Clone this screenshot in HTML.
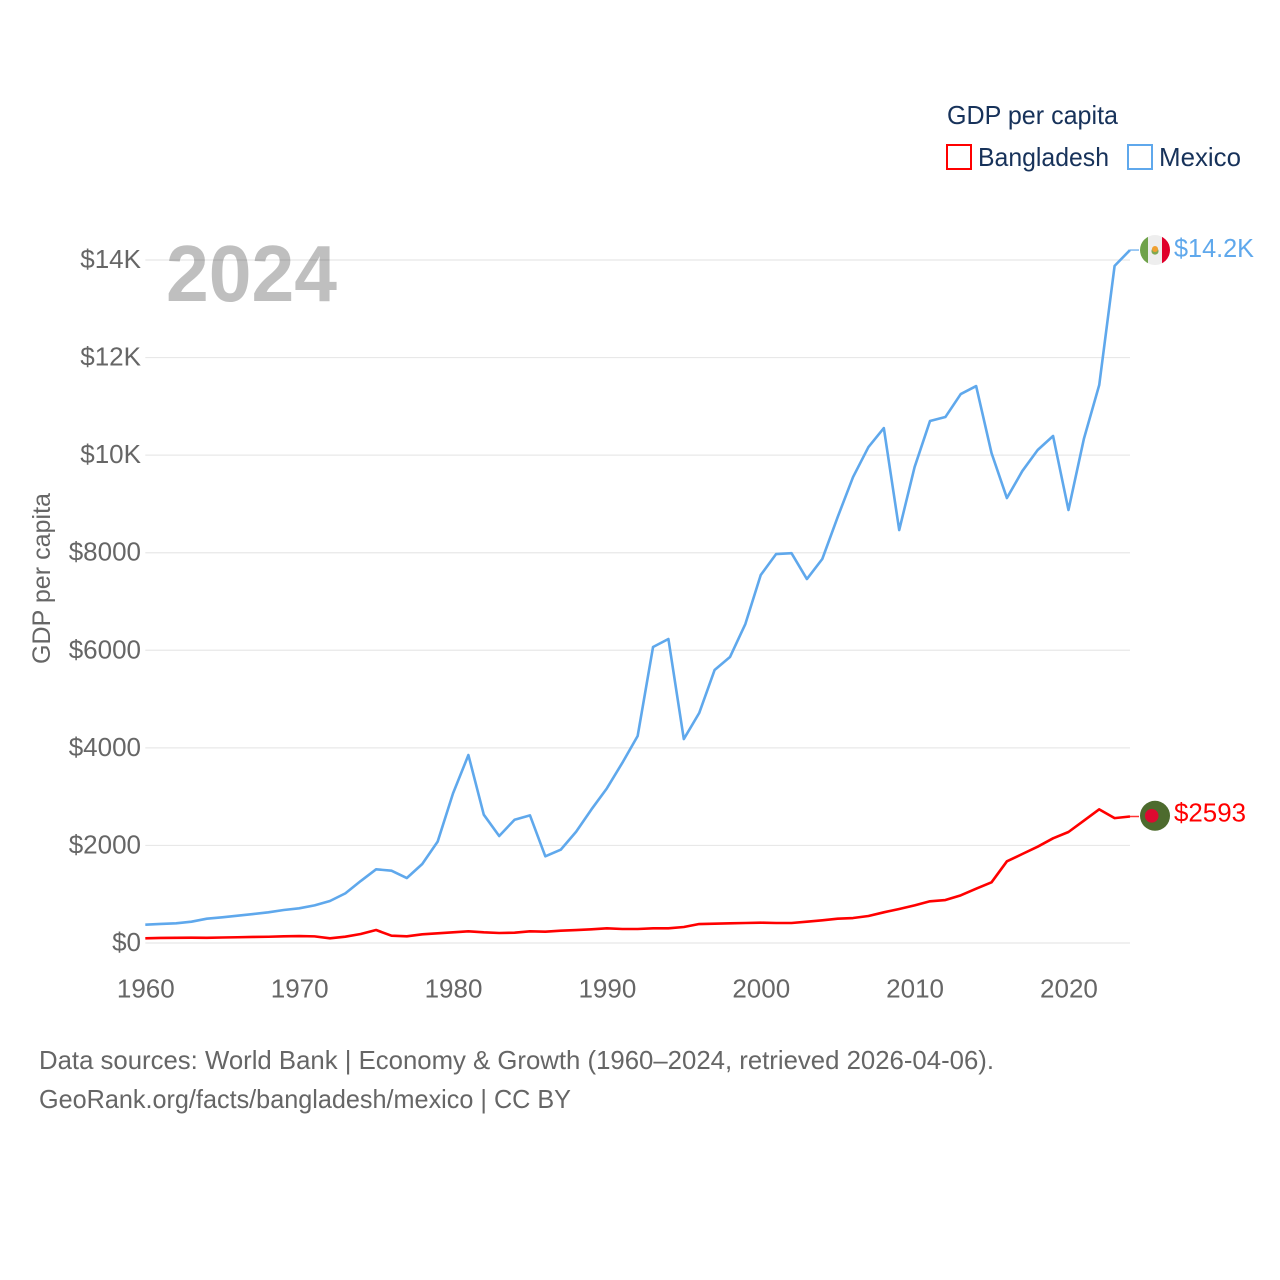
<!DOCTYPE html>
<html lang="en">
<head>
<meta charset="utf-8">
<title>GDP per capita: Bangladesh and Mexico</title>
<style>
html,body{margin:0;padding:0;background:#fff;width:1280px;height:1280px;overflow:hidden}
svg{display:block}
text{font-family:"Liberation Sans",sans-serif}
</style>
</head>
<body>
<svg id="chart" xmlns="http://www.w3.org/2000/svg" width="1280" height="1280" viewBox="0 0 1280 1280">
  <g id="grid"></g>
  <g id="y-ticks"></g>
  <g id="x-ticks"></g>
  <text x="166" y="301" font-size="80" font-weight="bold" fill="rgba(0,0,0,0.25)" textLength="171" lengthAdjust="spacingAndGlyphs">2024</text>
  <text transform="translate(50,578.5) rotate(-90)" text-anchor="middle" font-size="25" fill="#666" textLength="171" lengthAdjust="spacingAndGlyphs">GDP per capita</text>
  <g id="series"></g>

  <g id="flag-mexico">
    <clipPath id="mx-clip"><circle id="mx-clip-circle" cx="1155" cy="250" r="15"></circle></clipPath>
    <g clip-path="url(#mx-clip)">
      <rect id="mx-g" x="1140" y="235" width="8" height="30" fill="#6fa24a"></rect>
      <rect id="mx-w" x="1148" y="235" width="14" height="30" fill="#eeeeee"></rect>
      <rect id="mx-r" x="1162" y="235" width="8" height="30" fill="#e0002b"></rect>
      <circle id="mx-l" cx="1155" cy="251" r="3.6" fill="#7fa850"></circle>
      <circle id="mx-e" cx="1155" cy="249" r="3" fill="#f0a030"></circle>
    </g>
  </g>
  <g id="flag-bangladesh">
    <circle id="bd-g" cx="1155" cy="816" r="15" fill="#4d6b2e"></circle>
    <circle id="bd-r" cx="1151.7" cy="816" r="6.8" fill="#dc0a30"></circle>
  </g>
  <text id="label-mexico" x="1174" y="257" font-size="26" fill="#5fa8ec" textLength="80" lengthAdjust="spacingAndGlyphs">$14.2K</text>
  <text id="label-bangladesh" x="1174" y="822" font-size="26" fill="#ff0000" textLength="72" lengthAdjust="spacingAndGlyphs">$2593</text>

  <g>
    <text x="947" y="124" font-size="26" fill="#17325a" textLength="171" lengthAdjust="spacingAndGlyphs">GDP per capita</text>
    <rect x="947" y="145" width="24" height="24" fill="none" stroke="#ff0000" stroke-width="2"></rect>
    <text x="978" y="166" font-size="26" fill="#17325a" textLength="131" lengthAdjust="spacingAndGlyphs">Bangladesh</text>
    <rect x="1128" y="145" width="24" height="24" fill="none" stroke="#5fa8ec" stroke-width="2"></rect>
    <text x="1159" y="166" font-size="26" fill="#17325a" textLength="82" lengthAdjust="spacingAndGlyphs">Mexico</text>
  </g>

  <text x="39" y="1069" font-size="26" fill="#666" textLength="955" lengthAdjust="spacingAndGlyphs">Data sources: World Bank | Economy &amp; Growth (1960–2024, retrieved 2026-04-06).</text>
  <text x="39" y="1108" font-size="26" fill="#666" textLength="532" lengthAdjust="spacingAndGlyphs">GeoRank.org/facts/bangladesh/mexico | CC BY</text>
</svg>
<script>
const startYear = 1960;
const endYear = 2024;
const yTickValues = [0, 2000, 4000, 6000, 8000, 10000, 12000, 14000];
const yTickLabels = ["$0", "$2000", "$4000", "$6000", "$8000", "$10K", "$12K", "$14K"];
const xTickValues = [1960, 1970, 1980, 1990, 2000, 2010, 2020];
const mexicoValues = [375,390,403,437,498,526,560,594,629,676,711,772,861,1017,1270,1510,1483,1332,1619,2077,3067,3853,2630,2193,2527,2617,1777,1912,2281,2740,3170,3690,4243,6067,6231,4181,4714,5595,5862,6538,7543,7973,7990,7460,7871,8731,9551,10166,10555,8465,9756,10699,10781,11252,11416,10043,9121,9674,10105,10392,8875,10330,11437,13880,14204];
const bangladeshValues = [96,103,106,108,107,113,118,124,128,138,142,136,96,129,184,266,150,137,178,199,219,240,219,205,211,240,232,252,266,281,301,287,287,301,301,328,389,395,403,410,416,410,410,437,465,498,512,553,629,697,772,855,881,977,1113,1244,1674,1824,1974,2146,2275,2507,2740,2560,2593];

const NS = 'http://www.w3.org/2000/svg';
const plotLeft = 145.3, plotRight = 1130, plotBottom = 943, pxPerUnit = 683 / 14000;
function xScale(year) { return plotLeft + (year - startYear) * (plotRight - plotLeft) / (endYear - startYear); }
function yScale(value) { return plotBottom - value * pxPerUnit; }
function make(tag, attrs, parent, text) {
  const el = document.createElementNS(NS, tag);
  for (const k in attrs) el.setAttribute(k, attrs[k]);
  if (text !== undefined) el.textContent = text;
  parent.appendChild(el);
  return el;
}
const gridG = document.getElementById('grid');
const yG = document.getElementById('y-ticks');
const xG = document.getElementById('x-ticks');
const seriesG = document.getElementById('series');

yTickValues.forEach(function (v, i) {
  const y = yScale(v);
  const line = make('line', {x1: plotLeft, x2: plotRight, y1: y, y2: y, stroke: '#e8e8e8', 'stroke-width': 1.2}, gridG);
  
  
  const t = make('text', {x: 141, y: y + 8, 'text-anchor': 'end', 'font-size': 26, fill: '#666'}, yG, yTickLabels[i]);
  
  
});
xTickValues.forEach(function (yr) {
  const t = make('text', {x: xScale(yr) + 0.5, y: 997.5, 'text-anchor': 'middle', 'font-size': 26, fill: '#666'}, xG, String(yr));
  
  
});
function drawSeries(values, color) {
  const pts = values.map(function (v, i) { return xScale(startYear + i).toFixed(2) + ',' + yScale(v).toFixed(2); }).join(' ');
  const line = make('polyline', {points: pts, fill: 'none', stroke: color, 'stroke-width': 2.6, 'stroke-linejoin': 'round'}, seriesG);
  
  
  const lastY = yScale(values[values.length - 1]);
  const conn = make('line', {x1: plotRight, x2: 1139, y1: lastY, y2: lastY, stroke: color, 'stroke-width': 1.5, 'stroke-opacity': 0.8}, seriesG);
  
  
  return lastY;
}
const mxY = drawSeries(mexicoValues, '#5fa8ec');
const bdY = drawSeries(bangladeshValues, '#ff0000');
['mx-clip-circle'].forEach(function (id) {
  document.getElementById(id).setAttribute('cy', mxY);
});
document.getElementById('mx-e').setAttribute('cy', mxY - 1);
document.getElementById('mx-l').setAttribute('cy', mxY + 1);
['bd-g', 'bd-r'].forEach(function (id) {
  document.getElementById(id).setAttribute('cy', bdY - 0.7);
});
['mx-g', 'mx-w', 'mx-r'].forEach(function (id) {
  document.getElementById(id).setAttribute('y', mxY - 15);
});
document.getElementById('label-mexico').setAttribute('y', mxY + 7);
document.getElementById('label-bangladesh').setAttribute('y', bdY + 5);
</script>
</body>
</html>
